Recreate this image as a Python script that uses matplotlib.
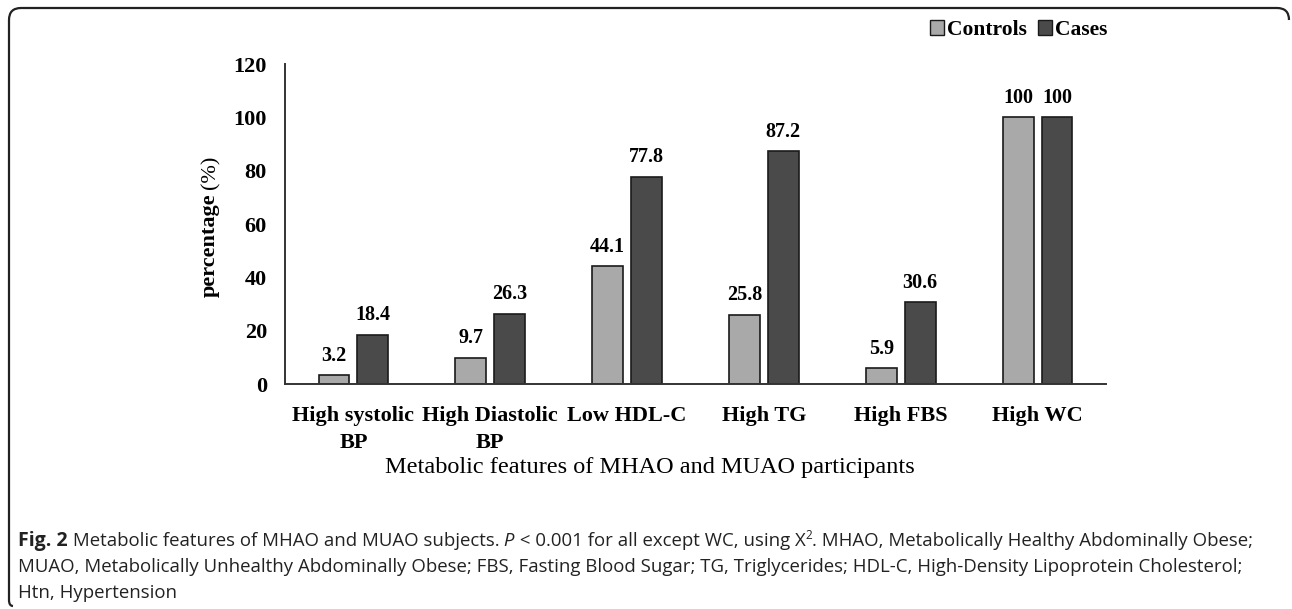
import numpy as np
import matplotlib
matplotlib.use('Agg')
import matplotlib.pyplot as plt
from matplotlib.path import Path
from matplotlib.patches import PathPatch, Patch

categories = ['High systolic\nBP', 'High Diastolic\nBP', 'Low HDL-C', 'High TG', 'High FBS', 'High WC']
controls = [3.2, 9.7, 44.1, 25.8, 5.9, 100]
cases = [18.4, 26.3, 77.8, 87.2, 30.6, 100]
yticks = [0, 20, 40, 60, 80, 100, 120]

W, H = 1292, 609
fig = plt.figure(figsize=(W / 100, H / 100), dpi=100)
ax = fig.add_axes([285 / W, 1 - 384 / H, 821 / W, 320 / H])

serif = 'Liberation Serif'
x = np.arange(len(categories))
bw = 0.226
b1 = ax.bar(x - 0.142, controls, bw, color='#a9a9a9', edgecolor='#1a1a1a', lw=1.2, label='Controls')
b2 = ax.bar(x + 0.142, cases, bw, color='#4a4a4a', edgecolor='#1a1a1a', lw=1.2, label='Cases')

for bars in (b1, b2):
    for r in bars:
        v = r.get_height()
        ax.annotate(f'{v:g}', (r.get_x() + r.get_width() / 2, v), xytext=(0, 7),
                    textcoords='offset points', ha='center', va='bottom',
                    fontsize=14.5, fontweight='bold', family=serif)

ax.set_xlim(-0.5, len(categories) - 0.5)
ax.set_ylim(0, 120)
ax.set_yticks(yticks)
ax.set_yticklabels([str(t) for t in yticks], fontsize=16, fontweight='bold', family=serif)
ax.set_xticks(x)
ax.set_xticklabels(categories, fontsize=16, fontweight='bold', family=serif, linespacing=1.45)
ax.tick_params(axis='x', length=0, pad=16)
ax.tick_params(axis='y', length=0, pad=13)
for s in ['top', 'right']:
    ax.spines[s].set_visible(False)
for s in ['left', 'bottom']:
    ax.spines[s].set_color('#333333')
    ax.spines[s].set_linewidth(1.4)

leg = fig.legend(handles=[Patch(facecolor='#a9a9a9', edgecolor='#1a1a1a', label='Controls'),
                          Patch(facecolor='#4a4a4a', edgecolor='#1a1a1a', label='Cases')],
                 loc='center', bbox_to_anchor=(1019 / W, 1 - 30 / H), ncol=2, frameon=False,
                 prop={'family': serif, 'weight': 'bold', 'size': 15.5},
                 handlelength=0.65, handleheight=0.65, handletextpad=0.15, columnspacing=0.5)

fig.text(650 / W, 1 - 467 / H, 'Metabolic features of MHAO and MUAO participants',
         ha='center', va='center', fontsize=17.5, family=serif)

# rounded frame around the figure panel
pts = [(1289, 20), (1289, 8), (1277, 8), (21, 8), (9, 8), (9, 20), (9, 600), (9, 606), (13, 606)]
codes = [Path.MOVETO, Path.CURVE3, Path.CURVE3, Path.LINETO, Path.CURVE3, Path.CURVE3,
         Path.LINETO, Path.CURVE3, Path.CURVE3]
pts = [(px / W, 1 - py / H) for px, py in pts]
fig.add_artist(PathPatch(Path(pts, codes), fill=False, lw=1.6, color='#222222',
                         transform=fig.transFigure))

fig.canvas.draw()
renderer = fig.canvas.get_renderer()

# y label: bold word, regular "(%)"
yl1 = fig.text(210 / W, 1 - 297 / H, 'percentage', rotation=90, ha='center', va='bottom',
               fontsize=16, fontweight='bold', family=serif)
bb = yl1.get_window_extent(renderer)
fig.text(211 / W, (bb.y1 + 4) / H, '(%)', rotation=90, ha='center', va='bottom',
         fontsize=16, family=serif)

# caption with mixed styles
cap_font = 'Open Sans'
cap_size = 13.4


def runs(line, x0, y0):
    xc = x0
    for txt, kw in line:
        t = fig.text(xc / W, 1 - y0 / H, txt, ha='left', va='baseline',
                     fontsize=kw.get('size', cap_size), family=cap_font,
                     fontweight=kw.get('weight', 'normal'), fontstyle=kw.get('style', 'normal'),
                     color='#222222')
        if kw.get('sup'):
            t.set_y(1 - (y0 - 7) / H)
        bb = t.get_window_extent(renderer)
        xc += bb.width


lines = [
    [('Fig. 2', {'weight': 'bold', 'size': 14}),
     (' Metabolic features of MHAO and MUAO subjects.', {}),
     (' P', {'style': 'italic'}),
     (' < 0.001 for all except WC, using X', {}),
     ('2', {'sup': True, 'size': 8.5}),
     ('. MHAO, Metabolically Healthy Abdominally Obese;', {})],
    [('MUAO, Metabolically Unhealthy Abdominally Obese; FBS, Fasting Blood Sugar; TG, Triglycerides; '
      'HDL-C, High-Density Lipoprotein Cholesterol;', {})],
    [('Htn, Hypertension', {})],
]
for i, ln in enumerate(lines):
    runs(ln, 18, 546 + i * 26)

fig.savefig('out.png', dpi=100, facecolor='white')
